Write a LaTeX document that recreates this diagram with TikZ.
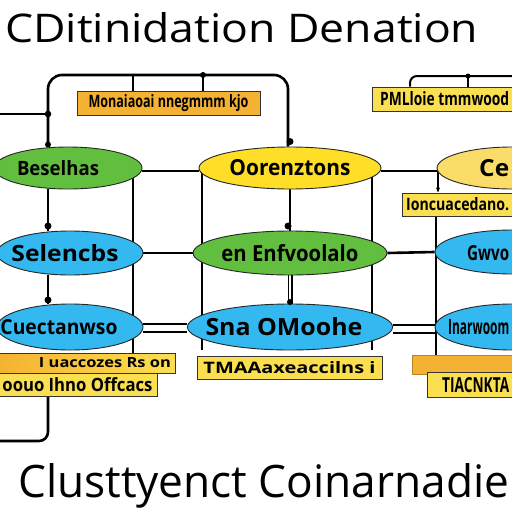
\documentclass[tikz,border=0pt]{standalone}
\usepackage{fontspec}
\setmainfont{Open Sans}
\usepackage{graphicx}
\usetikzlibrary{shapes.geometric,arrows.meta}
\definecolor{cgreen}{RGB}{98,190,62}
\definecolor{cyellow}{RGB}{255,222,40}
\definecolor{cyellowl}{RGB}{250,220,105}
\definecolor{cblue}{RGB}{52,184,240}
\definecolor{corange}{RGB}{245,178,50}
\definecolor{cboxy}{RGB}{250,223,80}
\newcommand\fittext[3]{\resizebox{#1pt}{#2pt}{#3}}
\pgfdeclarelayer{back}
\pgfdeclarelayer{bg}
\pgfsetlayers{back,bg,main}
\begin{document}
\begin{tikzpicture}[x=1pt,y=-1pt,
  ell/.style={ellipse, draw=black!85, line width=0.9pt, inner sep=0pt},
  box/.style={rectangle, draw=black!80, line width=1pt, inner sep=0pt},
  conn/.style={line width=2.6pt, black},
  guide/.style={line width=1.1pt, black},
  dbl/.style={line width=1.8pt, black},
  lbl/.style={inner sep=0pt}
]
\useasboundingbox (0,0) rectangle (512,512);
\clip (0,0) rectangle (512,512);
\begin{pgfonlayer}{back}
\fill[white] (0,0) rectangle (512,512);
\end{pgfonlayer}

% titles
\node[lbl, anchor=base west] (title) at (5,42) {\fittext{473}{30}{CDitinidation Denation}};
\node[lbl, anchor=base west] (foot) at (18,497) {\fittext{491}{34}{Clusttyenct Coinarnadie}};

% helper coordinates
\coordinate (X1) at (48,0);
\coordinate (T) at (0,75);
\coordinate (T2) at (288,75);
\coordinate (S1) at (133,75);
\coordinate (S2) at (203,75);
\coordinate (L1) at (0,114);
\coordinate (J1) at (48,114);
\coordinate (L2) at (0,441);
\coordinate (TR) at (530,76);
\coordinate (R1) at (410,0);
\coordinate (R2) at (468,76);
\coordinate (G1) at (133,0);
\coordinate (G2) at (202,0);
\coordinate (G3) at (372,0);
\coordinate (G4) at (436,0);
\coordinate (G5) at (438,0);

% row 1
\node[ell, fill=cgreen, minimum width=148pt, minimum height=42pt] (e11) at (68,168) {\hspace*{-20pt}\fittext{82}{15}{\bfseries Beselhas}};
\node[ell, fill=cyellow, minimum width=182pt, minimum height=42pt] (e12) at (290,168) {\fittext{121}{16}{\bfseries Oorenztons}};
\node[ell, fill=cyellowl, minimum width=150pt, minimum height=42pt] (e13) at (512,168) {};
\node[lbl, anchor=west] (t13) at (479,168) {\fittext{30}{17}{\bfseries Ce}};

% row 2
\node[ell, fill=cblue, minimum width=146pt, minimum height=44pt] (e21) at (70,253) {\hspace*{-10pt}\fittext{107}{17}{\bfseries Selencbs}};
\node[ell, fill=cgreen, minimum width=180pt, minimum height=44pt] (e22) at (290,253) {\fittext{137}{17}{\bfseries en Enfvoolalo}};
\node[ell, fill=cblue, minimum width=154pt, minimum height=44pt] (e23) at (512,252) {};
\node[lbl, anchor=west] (t23) at (467,253) {\fittext{42}{15}{\bfseries Gwvo}};

% row 3
\node[ell, fill=cblue, minimum width=146pt, minimum height=46pt] (e31) at (70,327) {\hspace*{-22pt}\fittext{117}{15}{\bfseries Cuectanwso}};
\node[ell, fill=cblue, minimum width=182pt, minimum height=46pt] (e32) at (290,327) {\hspace*{-12pt}\fittext{157}{18}{\bfseries Sna OMoohe}};
\node[ell, fill=cblue, minimum width=154pt, minimum height=46pt] (e33) at (512,327) {};
\node[lbl, anchor=west] (t33) at (448,327) {\fittext{61}{15}{\bfseries Inarwoom}};

% boxes
\node[box, fill=corange, minimum width=183pt, minimum height=24pt] (b1) at (168.5,103) {\fittext{160}{13}{\bfseries Monaiaoai nnegmmm kjo}};
\node[box, fill=cboxy, minimum width=158pt, minimum height=24pt] (b2) at (451,99) {};
\node[lbl, anchor=west] (t2) at (380,99) {\fittext{129}{14}{\bfseries PMLloie tmmwood}};
\node[box, fill=cboxy, minimum width=123pt, minimum height=23pt] (b3) at (463.5,204.5) {};
\node[lbl, anchor=west] (t3) at (406,204.5) {\fittext{103}{13}{\bfseries Ioncuacedano.}};
\node[box, left color=corange, right color=cboxy, minimum width=177pt, minimum height=20pt] (b4) at (86.5,363) {\makebox[177pt][r]{\fittext{132}{10}{\bfseries I uaccozes Rs on}\hspace*{4pt}}};
\node[box, fill=cboxy, minimum width=159pt, minimum height=23pt] (b5) at (77.5,384.5) {\fittext{150}{14}{\bfseries oouo Ihno Offcacs}};
\node[box, fill=cboxy, minimum width=185pt, minimum height=23pt] (b6) at (289.5,367.5) {\fittext{172}{12}{\bfseries TMAAaxeaccilns i}};
\node[box, fill=corange, draw=corange!75!black, minimum width=118pt, minimum height=19pt] (b7) at (471,364.5) {};
\node[box, fill=cboxy, minimum width=103pt, minimum height=25pt] (b8) at (478.5,384.5) {};
\node[lbl, anchor=west] (t8) at (442,385) {\fittext{67}{15}{\bfseries TIACNKTA}};

\begin{pgfonlayer}{bg}
  % guide lines
  \draw[guide] (G1 |- e11.center) -- (G1 |- b4.north);
  \draw[guide] (G2 |- e12.center) -- (G2 |- e32.south);
  \draw[guide] (G3 |- e12.center) -- (G3 |- e32.south);
  \draw[guide] (G4 |- b3.south) -- (G4 |- b7.north);
  % top left frame
  \draw[conn] (L1) -- (J1);
  \draw[conn, rounded corners=14pt] (X1 |- e11.north) -- (X1 |- T) -- (T2) -- (T2 |- e12.north);
  \draw[conn] (S1) -- (S1 |- b1.north);
  \draw[conn] (S2) -- (S2 |- b1.north);
  % top right frame
  \draw[line width=2pt, rounded corners=7pt] (R1 |- b2.north) -- (R1 |- TR) -- (TR);
  \draw[conn] (R2) -- (R2 |- b2.north);
  % row links
  \draw[conn] ([yshift=-3pt]e11.east) -- ([yshift=-3pt]e12.west);
  \draw[conn] ([yshift=-3pt]e12.east) -- ([yshift=-3pt]e13.west);
  \draw[conn] (e21.east) -- (e22.west);
  \draw[conn] (e22.east) -- (e23.west);
  \draw[dbl] ([yshift=3pt]e31.east) -- ([yshift=3pt]e32.west);
  \draw[dbl] ([yshift=-5pt]e31.east) -- ([yshift=-5pt]e32.west);
  \draw[dbl] ([yshift=2pt]e32.east) -- ([yshift=2pt]e33.west);
  \draw[dbl] ([yshift=-6pt]e32.east) -- ([yshift=-6pt]e33.west);
  % vertical links
  \draw[conn] (e11.south -| X1) -- (e21.north -| X1);
  \draw[conn] (e12.south) -- (e22.north);
  \draw[conn] (e21.south -| X1) -- (e31.north -| X1);
  \draw[double=white, double distance=2pt, line width=1.5pt] (e22.south) -- (e32.north);
  \draw[conn, rounded corners=9pt] (X1 |- b5.south) -- (X1 |- L2) -- (L2);
  \draw[guide, -{Stealth[length=5pt,width=4pt]}] (G5 |- e13.center) -- (G5 |- b3.north);
\end{pgfonlayer}

% dots
\fill (J1) circle (3.3pt);
\fill (S2) circle (3pt);
\fill ([yshift=5pt]e12.north) circle (3.5pt);
\fill ([yshift=2pt]X1 |- e11.north) circle (3pt);
\fill (48,226) circle (3.5pt);
\fill (288,226) circle (3.5pt);
\fill (48,300) circle (3.5pt);
\fill (290,302) circle (3pt);
\fill (R2) circle (2.5pt);
\end{tikzpicture}
\end{document}
